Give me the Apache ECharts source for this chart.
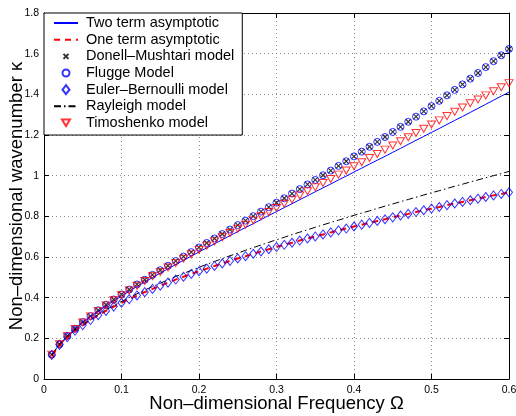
<!DOCTYPE html>
<html>
<head>
<meta charset="utf-8">
<script src="https://cdn.jsdelivr.net/npm/echarts@6/dist/echarts.min.js"></script>
<style>html,body{margin:0;padding:0;background:#fff}#c{width:516px;height:416px}</style>
</head>
<body>
<div id="c"></div>
<script>
const omega = [0.01,0.02,0.03,0.04,0.05,0.06,0.07,0.08,0.09,0.10,
  0.11,0.12,0.13,0.14,0.15,0.16,0.17,0.18,0.19,0.20,
  0.21,0.22,0.23,0.24,0.25,0.26,0.27,0.28,0.29,0.30,
  0.31,0.32,0.33,0.34,0.35,0.36,0.37,0.38,0.39,0.40,
  0.41,0.42,0.43,0.44,0.45,0.46,0.47,0.48,0.49,0.50,
  0.51,0.52,0.53,0.54,0.55,0.56,0.57,0.58,0.59,0.60];

const twoTerm = [0.120,0.171,0.211,0.246,0.277,0.306,0.333,0.359,0.384,0.408,
  0.432,0.455,0.477,0.499,0.521,0.542,0.563,0.584,0.604,0.625,
  0.645,0.665,0.685,0.705,0.725,0.745,0.764,0.784,0.804,0.823,
  0.843,0.862,0.882,0.901,0.921,0.940,0.959,0.979,0.998,1.018,
  1.037,1.057,1.076,1.095,1.115,1.134,1.154,1.174,1.193,1.213,
  1.232,1.252,1.272,1.291,1.311,1.331,1.351,1.371,1.391,1.411];

const oneTerm = [0.118,0.168,0.205,0.237,0.265,0.290,0.314,0.335,0.356,0.375,
  0.393,0.411,0.427,0.443,0.459,0.474,0.489,0.503,0.517,0.530,
  0.543,0.556,0.568,0.581,0.593,0.604,0.616,0.627,0.638,0.649,
  0.660,0.670,0.681,0.691,0.701,0.711,0.721,0.731,0.740,0.750,
  0.759,0.768,0.777,0.786,0.795,0.804,0.812,0.821,0.830,0.838,
  0.846,0.855,0.863,0.871,0.879,0.887,0.895,0.903,0.910,0.918];

const donellMushtari = [0.120,0.171,0.212,0.247,0.280,0.309,0.338,0.365,0.391,0.416,
  0.440,0.465,0.488,0.512,0.535,0.557,0.580,0.602,0.624,0.647,
  0.669,0.691,0.713,0.735,0.757,0.779,0.801,0.823,0.845,0.867,
  0.889,0.912,0.934,0.957,0.979,1.002,1.025,1.048,1.071,1.095,
  1.118,1.142,1.166,1.190,1.215,1.240,1.265,1.290,1.316,1.342,
  1.368,1.395,1.422,1.449,1.477,1.505,1.534,1.563,1.592,1.623];

const flugge = [0.120,0.171,0.212,0.247,0.280,0.309,0.338,0.365,0.391,0.416,
  0.440,0.465,0.488,0.512,0.535,0.557,0.580,0.602,0.624,0.647,
  0.669,0.691,0.713,0.735,0.757,0.779,0.801,0.823,0.845,0.867,
  0.889,0.912,0.934,0.957,0.979,1.002,1.025,1.048,1.071,1.095,
  1.118,1.142,1.166,1.190,1.215,1.240,1.265,1.290,1.316,1.342,
  1.368,1.395,1.422,1.449,1.477,1.505,1.534,1.563,1.592,1.623];

const eulerBernoulli = [0.118,0.168,0.205,0.237,0.265,0.290,0.314,0.335,0.356,0.375,
  0.393,0.411,0.427,0.443,0.459,0.474,0.489,0.503,0.517,0.530,
  0.543,0.556,0.568,0.581,0.593,0.604,0.616,0.627,0.638,0.649,
  0.660,0.670,0.681,0.691,0.701,0.711,0.721,0.731,0.740,0.750,
  0.759,0.768,0.777,0.786,0.795,0.804,0.812,0.821,0.830,0.838,
  0.846,0.855,0.863,0.871,0.879,0.887,0.895,0.903,0.910,0.918];

const rayleigh = [0.119,0.168,0.206,0.239,0.267,0.293,0.317,0.340,0.361,0.381,
  0.401,0.419,0.437,0.455,0.471,0.488,0.504,0.519,0.534,0.549,
  0.564,0.578,0.592,0.606,0.619,0.633,0.646,0.659,0.672,0.685,
  0.697,0.710,0.722,0.734,0.746,0.758,0.770,0.781,0.793,0.805,
  0.816,0.827,0.839,0.850,0.861,0.872,0.883,0.894,0.905,0.916,
  0.926,0.937,0.948,0.958,0.969,0.979,0.990,1.000,1.010,1.021];

const timoshenko = [0.120,0.171,0.211,0.246,0.278,0.308,0.335,0.362,0.387,0.412,
  0.436,0.459,0.482,0.505,0.527,0.549,0.571,0.592,0.613,0.635,
  0.656,0.677,0.697,0.718,0.739,0.759,0.780,0.800,0.821,0.841,
  0.862,0.882,0.903,0.923,0.943,0.964,0.984,1.005,1.025,1.046,
  1.066,1.087,1.107,1.128,1.148,1.169,1.189,1.210,1.231,1.252,
  1.272,1.293,1.314,1.335,1.356,1.375,1.395,1.415,1.435,1.455];

const names = ['Two term asymptotic','One term asymptotic','Donell\u2013Mushtari model','Flugge Model','Euler\u2013Bernoulli model','Rayleigh model','Timoshenko model'];
const xLabel = 'Non\u2013dimensional Frequency \u03A9';
const yLabel = 'Non\u2013dimensional wavenumber \u03BA';

const FONT = '"Liberation Sans", Arial, Helvetica, sans-serif';
const pair = v => omega.map((x, i) => [x, v[i]]);

// legend icons: small marker centred in a 24x14 box (the M points fix the box)
const BOX = 'path://M0,0M24,14';
const ICON_X = BOX + 'M9.5,4.5L14.5,9.5M14.5,4.5L9.5,9.5';
const ICON_O = BOX + 'M15.5,7A3.5,3.5,0,1,1,8.5,7A3.5,3.5,0,1,1,15.5,7Z';
const ICON_D = BOX + 'M12,2.5L15.5,7L12,11.5L8.5,7Z';
const ICON_V = BOX + 'M8,3.5L16,3.5L12,10Z';
const hidden = {color: 'rgba(0,0,0,0)', borderColor: 'rgba(0,0,0,0)', borderWidth: 0};

const chart = echarts.init(document.getElementById('c'), null, {renderer: 'canvas'});
const axisCommon = {
  type: 'value',
  axisLine: {show: true, onZero: false, lineStyle: {color: '#000', width: 1}},
  axisTick: {show: true, inside: true, length: 5, lineStyle: {color: '#000', width: 1}},
};
const gridLine = {lineStyle: {color: '#8c8c8c', width: 1, type: [1, 3]}};

chart.setOption({
  animation: false,
  backgroundColor: '#fff',
  textStyle: {fontFamily: FONT},
  grid: {left: 44, right: 7, top: 13, bottom: 37, containLabel: false, outerBoundsMode: 'none'},
  xAxis: [
    Object.assign({}, axisCommon, {
      min: 0, max: 0.6, interval: 0.1, position: 'bottom',
      axisLabel: {color: '#000', fontSize: 10.5, margin: 6, fontFamily: FONT},
      splitLine: Object.assign({show: true}, gridLine),
      name: xLabel, nameLocation: 'middle', nameGap: 15, nameMoveOverlap: false,
      nameTextStyle: {color: '#000', fontSize: 18.5, fontFamily: FONT, verticalAlign: 'top'}
    }),
    Object.assign({}, axisCommon, {
      min: 0, max: 0.6, interval: 0.1, position: 'top',
      axisLabel: {show: false}, splitLine: {show: false}
    })
  ],
  yAxis: [
    Object.assign({}, axisCommon, {
      min: 0, max: 1.8, interval: 0.2, position: 'left',
      axisLabel: {color: '#000', fontSize: 10.5, margin: 5, fontFamily: FONT},
      splitLine: Object.assign({show: true}, gridLine),
      name: yLabel, nameLocation: 'middle', nameGap: 18, nameMoveOverlap: false,
      nameTextStyle: {color: '#000', fontSize: 18.5, fontFamily: FONT}
    }),
    Object.assign({}, axisCommon, {
      min: 0, max: 1.8, interval: 0.2, position: 'right',
      axisLabel: {show: false}, splitLine: {show: false}
    })
  ],
  legend: {
    orient: 'vertical', left: 44, top: 13,
    padding: [2, 8, 4, 9],
    itemWidth: 24, itemHeight: 14, itemGap: 0.67,
    backgroundColor: '#fff', borderColor: '#000', borderWidth: 1, borderRadius: 0,
    textStyle: {color: '#000', fontSize: 14.5, fontFamily: FONT, lineHeight: 16, padding: [0, 0, 0, 3]},
    data: [
      {name: names[0], itemStyle: hidden},
      {name: names[1], itemStyle: hidden},
      {name: names[2], icon: ICON_X},
      {name: names[3], icon: ICON_O},
      {name: names[4], icon: ICON_D},
      {name: names[5], itemStyle: hidden},
      {name: names[6], icon: ICON_V}
    ]
  },
  series: [
    {name: names[0], type: 'line', data: pair(twoTerm), symbol: 'none', showSymbol: false,
     lineStyle: {color: '#0000ff', width: 1}, itemStyle: {color: '#0000ff'}, z: 2},
    {name: names[1], type: 'line', data: pair(oneTerm), symbol: 'none', showSymbol: false,
     lineStyle: {color: '#ff0000', width: 2, type: [6, 5]}, itemStyle: {color: '#ff0000'}, z: 2},
    {name: names[2], type: 'scatter', data: pair(donellMushtari),
     symbol: 'path://M0,0L10,10M10,0L0,10', symbolSize: 5,
     itemStyle: {color: 'rgba(0,0,0,0)', borderColor: '#000', borderWidth: 1.2}, z: 3},
    {name: names[3], type: 'scatter', data: pair(flugge),
     symbol: 'circle', symbolSize: 7,
     itemStyle: {color: 'rgba(0,0,0,0)', borderColor: '#0000ff', borderWidth: 1}, z: 3},
    {name: names[4], type: 'scatter', data: pair(eulerBernoulli),
     symbol: 'diamond', symbolSize: [7, 9],
     itemStyle: {color: 'rgba(0,0,0,0)', borderColor: '#0000ff', borderWidth: 1}, z: 3},
    {name: names[5], type: 'line', data: pair(rayleigh), symbol: 'none', showSymbol: false,
     lineStyle: {color: '#000', width: 1, type: [7, 3, 1.5, 3]}, itemStyle: {color: '#000'}, z: 3},
    {name: names[6], type: 'scatter', data: pair(timoshenko),
     symbol: 'path://M0,0L10,0L5,9Z', symbolSize: [8, 7],
     itemStyle: {color: 'rgba(0,0,0,0)', borderColor: '#ff0000', borderWidth: 1}, z: 3}
  ]
});
</script>
</body>
</html>
